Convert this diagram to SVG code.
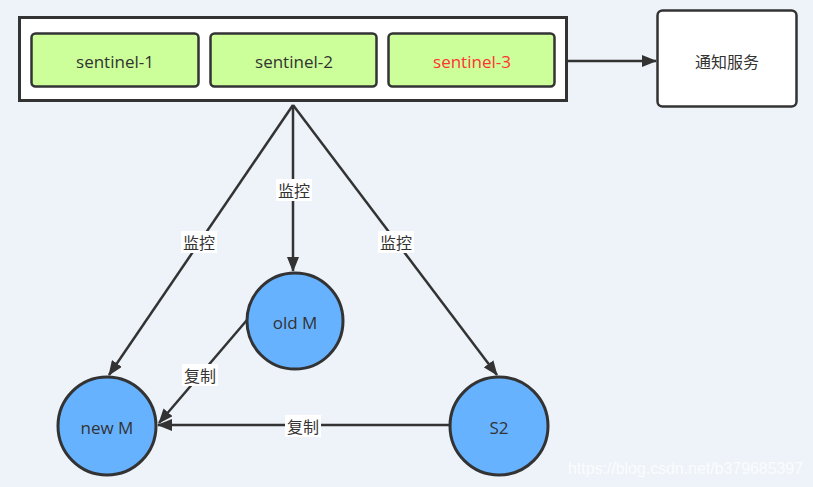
<svg xmlns="http://www.w3.org/2000/svg" width="813" height="487" viewBox="0 0 813 487">
<style>
.t{font-family:"Open Sans","Noto Sans","Noto Sans CJK SC",sans-serif;font-size:17px;fill:#333;text-anchor:middle;dominant-baseline:central}
.cj{font-family:"Noto Sans CJK SC",sans-serif;font-size:16px;fill:#333;text-anchor:middle;dominant-baseline:central}
.box{fill:#ccff99;stroke:#333;stroke-width:2.5}
.c{fill:#66b2ff;stroke:#333;stroke-width:3}
.e{stroke:#333;stroke-width:2.5;fill:none}
.lb{fill:#fff}
</style>
<defs>
<marker id="a" viewBox="0 0 15 12" refX="14" refY="6" markerWidth="15" markerHeight="12" markerUnits="userSpaceOnUse" orient="auto">
<path d="M0,0 L15,6 L0,12 z" fill="#333"/>
</marker>
</defs>
<rect width="813" height="487" fill="#eef3fa"/>
<g id="container">
<rect x="19.5" y="17.5" width="547" height="83" fill="#fff" stroke="#333" stroke-width="3"/>
</g>
<g id="sentinel-1"><rect class="box" x="31.5" y="33.5" width="167" height="53" rx="4"/><text class="t" x="115" y="61">sentinel-1</text></g>
<g id="sentinel-2"><rect class="box" x="210.5" y="33.5" width="166" height="53" rx="4"/><text class="t" x="294" y="61">sentinel-2</text></g>
<g id="sentinel-3"><rect class="box" x="388.5" y="33.5" width="166" height="53" rx="4"/><text class="t" x="472" y="61" style="fill:#ff3333">sentinel-3</text></g>
<g id="notify"><rect x="657.5" y="10.5" width="139" height="96" rx="5" fill="#fff" stroke="#333" stroke-width="2.5"/><text class="cj" x="727" y="61">通知服务</text></g>
<g id="oldM"><circle class="c" cx="295" cy="321" r="48"/><text class="t" x="295" y="322">old M</text></g>
<g id="newM"><circle class="c" cx="107" cy="426" r="49"/><text class="t" x="107" y="427">new M</text></g>
<g id="S2"><circle class="c" cx="499" cy="426" r="49"/><text class="t" x="499" y="427">S2</text></g>
<g id="connectors">
<line class="e" x1="567" y1="61" x2="656" y2="61" marker-end="url(#a)"/>
<line class="e" x1="293" y1="105" x2="109" y2="375" marker-end="url(#a)"/>
<line class="e" x1="293" y1="105" x2="293" y2="271" marker-end="url(#a)"/>
<line class="e" x1="293" y1="105" x2="497" y2="375" marker-end="url(#a)"/>
<line class="e" x1="247" y1="320" x2="159" y2="423" marker-end="url(#a)"/>
<line class="e" x1="450" y1="425" x2="158" y2="425" marker-end="url(#a)"/>
<rect class="lb" x="181" y="231" width="36" height="22"/><text class="cj" x="199" y="242">监控</text>
<rect class="lb" x="276" y="179" width="36" height="22"/><text class="cj" x="294" y="190">监控</text>
<rect class="lb" x="378" y="231" width="36" height="22"/><text class="cj" x="396" y="242">监控</text>
<rect class="lb" x="182" y="364" width="36" height="22"/><text class="cj" x="200" y="375">复制</text>
<rect class="lb" x="285" y="415" width="36" height="22"/><text class="cj" x="303" y="426">复制</text>
</g>
<text x="568" y="474" textLength="235" lengthAdjust="spacingAndGlyphs" style="font-family:'Liberation Sans',sans-serif;font-size:16px;fill:#fff;fill-opacity:0.8">https://blog.csdn.net/b379685397</text>
</svg>
